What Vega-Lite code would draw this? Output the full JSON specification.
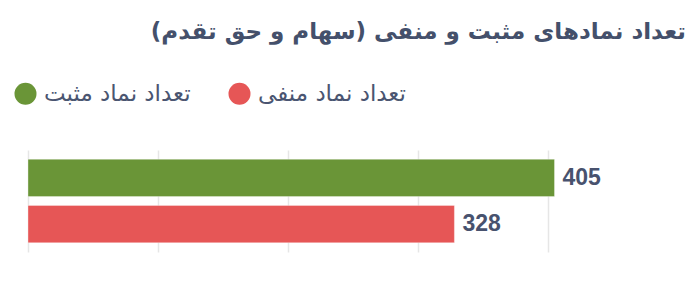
{
  "$schema": "https://vega.github.io/schema/vega-lite/v6.json",
  "width": 585,
  "height": 102,
  "autosize": "none",
  "padding": {"left": 28, "top": 150, "right": 84, "bottom": 39},
  "background": "white",
  "title": {
    "text": "تعداد نمادهای مثبت و منفی (سهام و حق تقدم)",
    "anchor": "end",
    "dx": 73,
    "offset": 38,
    "fontSize": 23,
    "fontWeight": "bold",
    "font": "DejaVu Sans",
    "color": "#44506b"
  },
  "data": {
    "values": [
      {"category": "تعداد نماد مثبت", "value": 405},
      {"category": "تعداد نماد منفی", "value": 328}
    ]
  },
  "encoding": {
    "y": {
      "field": "category",
      "type": "nominal",
      "sort": ["تعداد نماد مثبت", "تعداد نماد منفی"],
      "scale": {"paddingInner": 0.19, "paddingOuter": 0.2},
      "axis": null
    },
    "x": {
      "field": "value",
      "type": "quantitative",
      "scale": {"domain": [0, 450], "nice": false},
      "axis": {
        "values": [0, 100, 200, 300, 400],
        "labels": false,
        "ticks": false,
        "domain": false,
        "title": null,
        "grid": true,
        "gridColor": "#e6e6e6",
        "gridWidth": 1.5
      }
    }
  },
  "layer": [
    {
      "mark": {"type": "bar", "stroke": "white", "strokeOpacity": 0.35, "strokeWidth": 1},
      "encoding": {
        "color": {
          "field": "category",
          "type": "nominal",
          "scale": {
            "domain": ["تعداد نماد مثبت", "تعداد نماد منفی"],
            "range": ["#6a9537", "#e65656"]
          },
          "legend": {
            "orient": "none",
            "legendX": -14,
            "legendY": -68,
            "direction": "horizontal",
            "title": null,
            "symbolType": "circle",
            "symbolSize": 484,
            "symbolStrokeWidth": 0,
            "symbolOpacity": 1,
            "labelFontSize": 23,
            "labelFont": "DejaVu Sans",
            "labelColor": "#4a5571",
            "labelOffset": 7,
            "columnPadding": 37
          }
        }
      }
    },
    {
      "mark": {
        "type": "text",
        "align": "left",
        "dx": 8,
        "fontSize": 23,
        "fontWeight": "bold",
        "font": "Liberation Sans",
        "color": "#48526e"
      },
      "encoding": {
        "text": {"field": "value", "type": "quantitative"}
      }
    }
  ],
  "config": {"view": {"stroke": null}}
}
